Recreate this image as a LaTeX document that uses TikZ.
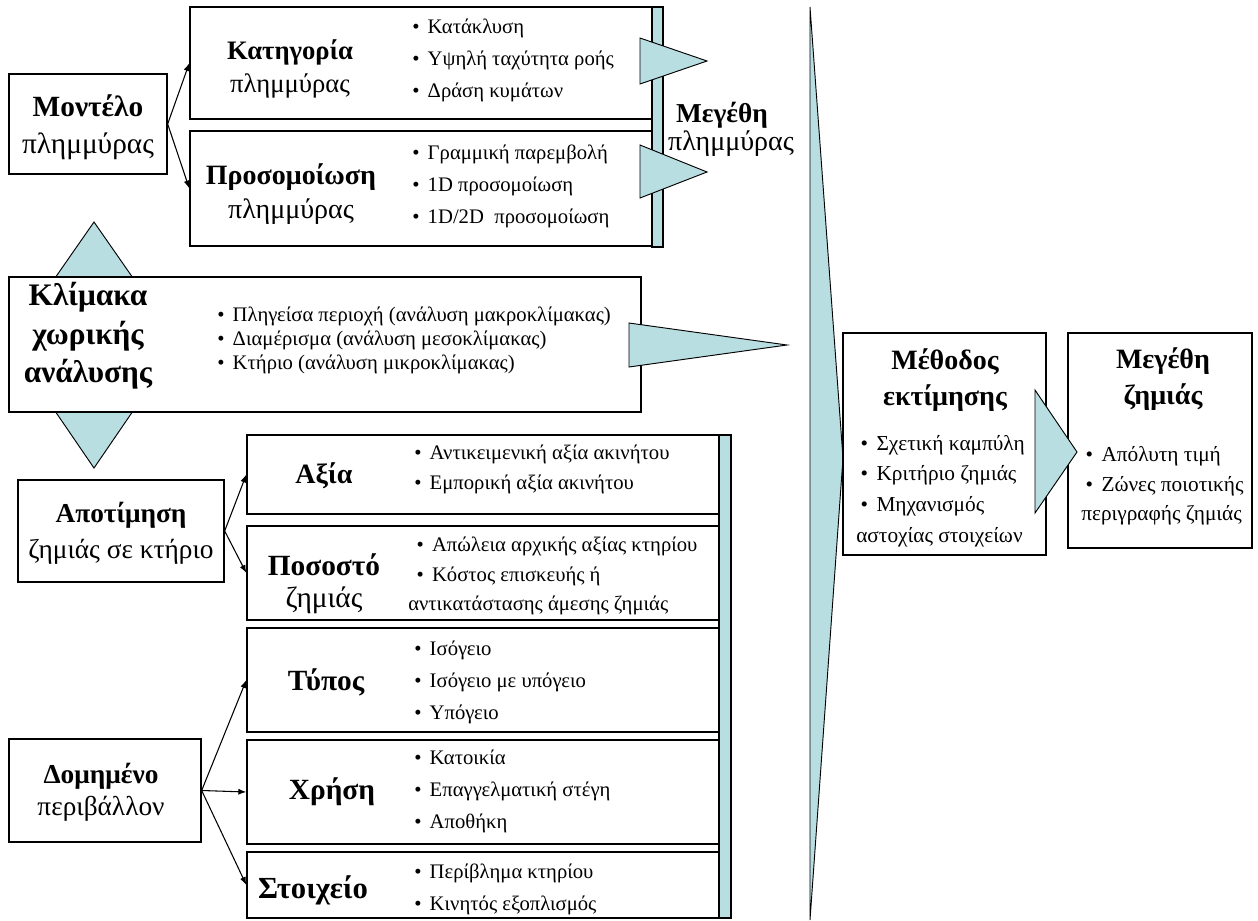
\documentclass[tikz,border=0pt]{standalone}
\usepackage{fontspec}
\setmainfont{Liberation Serif}
\usetikzlibrary{arrows.meta,fit}
\definecolor{tealfill}{RGB}{184,222,226}
\newcommand\bul{\textbullet\hspace{0.4em}}
\begin{document}
\begin{tikzpicture}[x=0.75pt,y=-0.75pt,
  box/.style={draw=black, line width=1pt, fill=white, inner sep=0pt},
  bar/.style={draw=black, line width=1pt, fill=tealfill},
  tri/.style={draw=black, line width=0.7pt, fill=tealfill, line join=miter},
  lbl/.style={align=center, inner sep=0pt, font=\fontsize{21}{27}\selectfont},
  items/.style={align=left, inner sep=0pt, anchor=west, font=\fontsize{15.5}{24}\selectfont},
  arr/.style={-{Latex[length=6pt,width=4.5pt]}, line width=0.8pt}]
\useasboundingbox (0,0) rectangle (1258,921);

% large wedge collecting all inputs
\draw[tri] (810,7) -- (843,458) -- (810,920) -- cycle;

% flood model branch
\draw[bar] (652,7) rectangle (663,247);
\node[box, fit={(190,7) (652,119)}] (cat) {};
\node[box, fit={(190,131) (652,246)}] (sim) {};
\draw[tri] (640,38) -- (707,61) -- (640,84) -- cycle;
\draw[tri] (640,145) -- (707,172) -- (640,198) -- cycle;
\node[box, fit={(9,74) (167,174)}] (model) {};

% spatial scale, with the up/down wedges behind it
\draw[tri] (55,278) -- (94,222) -- (133,278) -- cycle;
\draw[tri] (55,411) -- (94,468) -- (133,411) -- cycle;
\node[box, fit={(9,277) (641,412)}] (scale) {};
\draw[tri] (629,323) -- (787,345) -- (629,367) -- cycle;

% building damage branch
\draw[bar] (719,435) rectangle (731,918);
\node[box, fit={(247,435) (719,514)}] (value) {};
\node[box, fit={(247,526) (719,620)}] (ratio) {};
\node[box, fit={(247,628) (719,732)}] (type) {};
\node[box, fit={(247,740) (719,844)}] (use) {};
\node[box, fit={(247,852) (719,918)}] (elem) {};
\node[box, fit={(18,480) (224,582)}] (assess) {};
\node[box, fit={(9,739) (201,842)}] (built) {};

% estimation and damage output
\node[box, fit={(843,333) (1046,555)}] (method) {};
\node[box, fit={(1068,333) (1252,548)}] (dmg) {};
\draw[tri] (1035,390) -- (1077,452) -- (1035,513) -- cycle;

% connectors
\draw[arr] (model.east) -- (cat.west);
\draw[arr] (model.east) -- (sim.west);
\draw[arr] (assess.east) -- (value.west);
\draw[arr] (assess.east) -- (ratio.west);
\draw[arr] (built.east) -- (type.west);
\draw[arr] (built.east) -- (use.west);
\draw[arr] (built.east) -- (elem.west);

% titles
\node[lbl, font=\fontsize{22}{28}\selectfont] (tmodel) at (88,127) {\textbf{Μοντέλο}\\πλημμύρας};
\node[lbl, font=\fontsize{20}{25}\selectfont] (tcat) at (290,69) {\textbf{Κατηγορία}\\πλημμύρας};
\node[lbl, font=\fontsize{21}{25}\selectfont] (tsim) at (291,194) {\textbf{Προσομοίωση}\\πλημμύρας};
\node[lbl, font=\fontsize{20.5}{23}\selectfont\bfseries] (tmag) at (722,115) {Μεγέθη};
\node[lbl, font=\fontsize{21}{23}\selectfont] (tmag2) at (731,144) {πλημμύρας};
\node[lbl, font=\fontsize{23.5}{29}\selectfont\bfseries] (tscale) at (88,336) {Κλίμακα\\χωρικής\\ανάλυσης};
\node[lbl, font=\fontsize{20.5}{27}\selectfont] (tassess) at (121,533) {\textbf{Αποτίμηση}\\ζημιάς σε κτήριο};
\node[lbl, font=\fontsize{21}{24}\selectfont\bfseries] (tvalue) at (324,476) {Αξία};
\node[lbl, font=\fontsize{22}{24}\selectfont] (tratio) at (324,584) {\textbf{Ποσοστό}\\ζημιάς};
\node[lbl, font=\fontsize{22}{24}\selectfont\bfseries] (ttype) at (326,682) {Τύπος};
\node[lbl, font=\fontsize{22}{24}\selectfont\bfseries] (tuse) at (332,792) {Χρήση};
\node[lbl, font=\fontsize{23}{24}\selectfont\bfseries] (telem) at (313,890) {Στοιχείο};
\node[lbl, font=\fontsize{20.5}{24}\selectfont] (tbuilt) at (101,792) {\textbf{Δομημένο}\\περιβάλλον};
\node[lbl, font=\fontsize{21}{27}\selectfont\bfseries] (tmethod) at (945,380) {Μέθοδος\\εκτίμησης};
\node[lbl, font=\fontsize{21}{27}\selectfont\bfseries] (tdmg) at (1163,379) {Μεγέθη\\ζημιάς};

% bullet lists
\node[items] (icat) at (412,60) {\bul Κατάκλυση\\\bul Υψηλή ταχύτητα ροής\\\bul Δράση κυμάτων};
\node[items] (isim) at (412,186) {\bul Γραμμική παρεμβολή\\\bul 1D προσομοίωση\\\bul 1D/2D\ \ προσομοίωση};
\node[items, font=\fontsize{15.5}{18}\selectfont] (iscale) at (217,340) {\bul Πληγείσα περιοχή (ανάλυση μακροκλίμακας)\\\bul Διαμέρισμα (ανάλυση μεσοκλίμακας)\\\bul Κτήριο (ανάλυση μικροκλίμακας)};
\node[items, font=\fontsize{15.5}{22.5}\selectfont] (ivalue) at (414,469) {\bul Αντικειμενική αξία ακινήτου\\\bul Εμπορική αξία ακινήτου};
\node[items, font=\fontsize{15.5}{22}\selectfont] (iratio) at (408,576) {\hspace*{0.4em}\bul Απώλεια αρχικής αξίας κτηρίου\\\hspace*{0.4em}\bul Κόστος επισκευής ή\\αντικατάστασης άμεσης ζημιάς};
\node[items] (itype) at (414,682) {\bul Ισόγειο\\\bul Ισόγειο με υπόγειο\\\bul Υπόγειο};
\node[items] (iuse) at (414,791) {\bul Κατοικία\\\bul Επαγγελματική στέγη\\\bul Αποθήκη};
\node[items] (ielem) at (414,889) {\bul Περίβλημα κτηρίου\\\bul Κινητός εξοπλισμός};
\node[items, font=\fontsize{16}{23}\selectfont] (imethod) at (856,491) {\hspace*{0.2em}\bul Σχετική καμπύλη\\\hspace*{0.2em}\bul Κριτήριο ζημιάς\\\hspace*{0.2em}\bul Μηχανισμός\\αστοχίας στοιχείων};
\node[items, font=\fontsize{16}{22}\selectfont] (idmg) at (1081,486) {\hspace*{0.2em}\bul Απόλυτη τιμή\\\hspace*{0.2em}\bul Ζώνες ποιοτικής\\περιγραφής ζημιάς};
\end{tikzpicture}
\end{document}
